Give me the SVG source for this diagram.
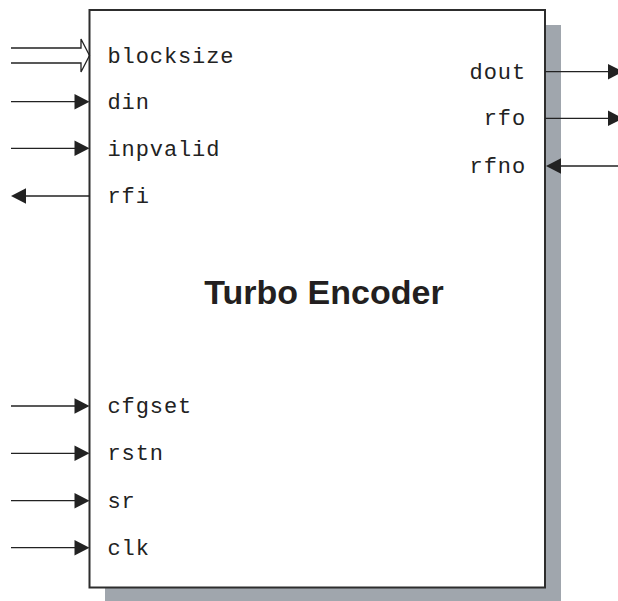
<svg xmlns="http://www.w3.org/2000/svg" width="618" height="601" viewBox="0 0 618 601">
<style>
.w{stroke:#222;stroke-width:1.3;fill:none}
.h{fill:#222}
.lbl{font-family:"Liberation Mono","Courier New",monospace;font-size:22px;letter-spacing:0.9px;fill:#222}
.t{font-family:"Liberation Sans",Arial,Helvetica,sans-serif;font-size:34px;font-weight:bold;fill:#231f20}
</style>
<defs>
<polygon id="ar" points="0,0 -15,-7.8 -15,7.8"/>
</defs>
<g id="encoder">
<rect x="105" y="25" width="456" height="580" fill="#a0a6ad"/>
<rect x="89.5" y="10" width="455.5" height="577.5" fill="#fff" stroke="#2d2d2d" stroke-width="2"/>
<text class="t" x="324" y="304" text-anchor="middle">Turbo Encoder</text>
<text class="lbl" x="107.5" y="63">blocksize</text>
<text class="lbl" x="107.5" y="109">din</text>
<text class="lbl" x="107.5" y="156">inpvalid</text>
<text class="lbl" x="107.5" y="203">rfi</text>
<text class="lbl" x="107.5" y="413">cfgset</text>
<text class="lbl" x="107.5" y="460">rstn</text>
<text class="lbl" x="107.5" y="508">sr</text>
<text class="lbl" x="107.5" y="555">clk</text>
<text class="lbl" x="526" y="79" text-anchor="end">dout</text>
<text class="lbl" x="526" y="125" text-anchor="end">rfo</text>
<text class="lbl" x="526" y="173" text-anchor="end">rfno</text>
</g>
<g id="connectors">
<polyline class="w" points="11,48 81,48 81,39 89.5,55.5 81,72 81,63 11,63"/>
<line class="w" x1="11" y1="101.7" x2="80" y2="101.7"/>
<use href="#ar" class="h" x="89.5" y="101.7"/>
<line class="w" x1="11" y1="148.3" x2="80" y2="148.3"/>
<use href="#ar" class="h" x="89.5" y="148.3"/>
<line class="w" x1="20" y1="196" x2="89.5" y2="196"/>
<use href="#ar" class="h" transform="translate(11,196) rotate(180)"/>
<line class="w" x1="11" y1="406" x2="80" y2="406"/>
<use href="#ar" class="h" x="89.5" y="406"/>
<line class="w" x1="11" y1="453.3" x2="80" y2="453.3"/>
<use href="#ar" class="h" x="89.5" y="453.3"/>
<line class="w" x1="11" y1="500.7" x2="80" y2="500.7"/>
<use href="#ar" class="h" x="89.5" y="500.7"/>
<line class="w" x1="11" y1="547.7" x2="80" y2="547.7"/>
<use href="#ar" class="h" x="89.5" y="547.7"/>
<line class="w" x1="545" y1="71.7" x2="612" y2="71.7"/>
<use href="#ar" class="h" x="623" y="71.7"/>
<line class="w" x1="545" y1="118.3" x2="612" y2="118.3"/>
<use href="#ar" class="h" x="623" y="118.3"/>
<line class="w" x1="555" y1="166" x2="618" y2="166"/>
<use href="#ar" class="h" transform="translate(546,166) rotate(180)"/>
</g>
</svg>
